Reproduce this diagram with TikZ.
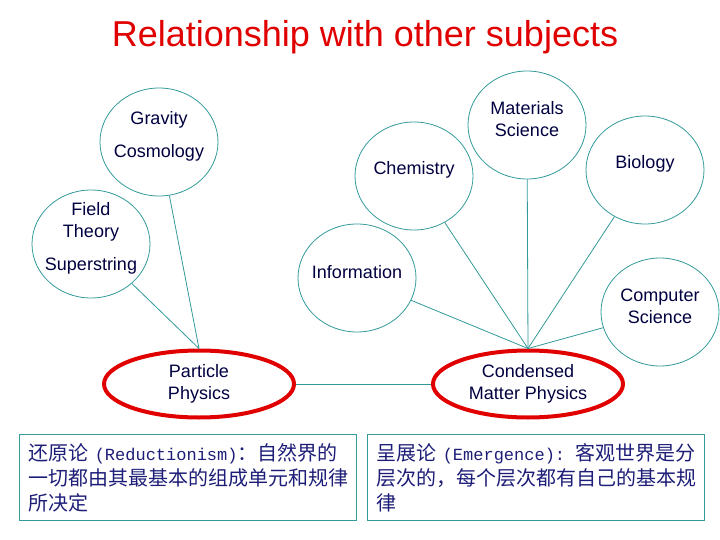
\documentclass[tikz,border=0pt]{standalone}
\usepackage{fontspec}
\setmainfont{Liberation Sans}
\newfontfamily\cjk{Noto Sans CJK SC}
\newfontfamily\cjkmono{Liberation Mono}[Scale=0.85]
\usetikzlibrary{shapes.geometric}
\definecolor{tealline}{RGB}{51,153,153}
\definecolor{navytext}{RGB}{0,0,64}
\definecolor{titlered}{RGB}{224,0,0}
\definecolor{boxtext}{RGB}{30,30,120}
\tikzset{
  subj/.style={
    draw=tealline,
    line width=0.8pt,
    ellipse,
    minimum width=118pt,
    minimum height=108pt,
    inner sep=0pt
  },
  subjlbl/.style={font=\fontsize{18}{22}\selectfont, text=navytext, align=center, inner sep=0pt, yshift=6pt},
  core/.style={draw=titlered, line width=4pt, ellipse, minimum width=190pt, minimum height=67pt, inner sep=0pt,
    font=\fontsize{18}{22}\selectfont, text=navytext, align=center},
  link/.style={draw=tealline, line width=0.8pt},
  ttl/.style={font=\fontsize{36}{40}\selectfont, text=titlered, inner sep=0pt},
  notebox/.style={draw=tealline, line width=1.2pt, anchor=north west, minimum height=80pt, inner sep=8.5pt,
    text width=320pt, align=left, font=\cjk\fontsize{20}{25}\selectfont, text=boxtext},
}

\begin{document}
\begin{tikzpicture}[x=1pt, y=-1pt]
  \useasboundingbox (0,0) rectangle (720,540);
  \node[ttl] (title) at (365,37) {Relationship with other subjects};
  % subject circles
  \node[subj, label={[subjlbl]center:Gravity\\[11pt]Cosmology}] (grav) at (159,142) {};
  \node[subj, label={[subjlbl]center:Field\\Theory\\[11pt]Superstring}] (field) at (91,244) {};
  \node[subj, label={[subjlbl]center:Information}] (info) at (357,278) {};
  \node[subj, label={[subjlbl]center:Chemistry}] (chem) at (414,176) {};
  \node[subj, label={[subjlbl]center:Materials\\Science}] (mat) at (527,125) {};
  \node[subj, label={[subjlbl]center:Biology}] (bio) at (645,170) {};
  \node[subj, label={[subjlbl]center:Computer\\Science}] (comp) at (660,312) {};
  % the two physics fields
  \node[core] (pp) at (199,384) {Particle\\Physics};
  \node[core] (cmp) at (528,384) {Condensed\\Matter Physics};
  \foreach \s in {grav,field} \draw[link] (\s) -- (pp.north);
  \foreach \s in {info,chem,mat,bio,comp} \draw[link] (\s) -- (cmp.north);
  \draw[link] (pp.east) -- (cmp.west);
  % notes
  \node[notebox] (reduct) at (19,434) {还原论 {\cjkmono (Reductionism)}：自然界的\\一切都由其最基本的组成单元和规律\\所决定};
  \node[notebox] (emerg) at (367,434) {呈展论 {\cjkmono (Emergence):} 客观世界是分\\层次的，每个层次都有自己的基本规\\律};
\end{tikzpicture}
\end{document}
